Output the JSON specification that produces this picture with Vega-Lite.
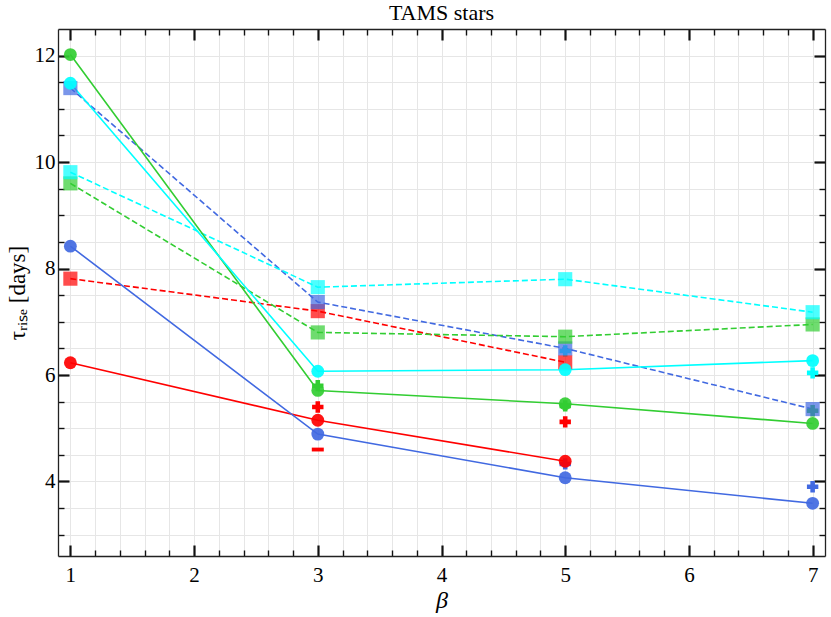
{
  "$schema": "https://vega.github.io/schema/vega-lite/v6.json",
  "autosize": {"type": "none"},
  "width": 767,
  "height": 527,
  "padding": {"left": 58, "top": 29, "right": 6, "bottom": 61},
  "background": "white",
  "title": {"text": "TAMS stars", "font": "Liberation Serif", "fontSize": 22, "fontWeight": "normal", "color": "black", "offset": 3},
  "config": {
    "view": {"stroke": null},
    "axis": {"labelFont": "Liberation Serif", "titleFont": "Liberation Serif", "labelColor": "black", "titleColor": "black", "titleFontWeight": "normal", "domainColor": "#222", "domainWidth": 1.3, "tickColor": "#111"}
  },
  "data": {"values": [
    {"beta": 1, "tau": 6.23, "series": "red", "marker": "circle"},
    {"beta": 3, "tau": 5.15, "series": "red", "marker": "circle"},
    {"beta": 5, "tau": 4.38, "series": "red", "marker": "circle"},
    {"beta": 1, "tau": 8.42, "series": "blue", "marker": "circle"},
    {"beta": 3, "tau": 4.89, "series": "blue", "marker": "circle"},
    {"beta": 5, "tau": 4.07, "series": "blue", "marker": "circle"},
    {"beta": 7, "tau": 3.59, "series": "blue", "marker": "circle"},
    {"beta": 1, "tau": 12.02, "series": "green", "marker": "circle"},
    {"beta": 3, "tau": 5.71, "series": "green", "marker": "circle"},
    {"beta": 5, "tau": 5.46, "series": "green", "marker": "circle"},
    {"beta": 7, "tau": 5.09, "series": "green", "marker": "circle"},
    {"beta": 1, "tau": 11.48, "series": "cyan", "marker": "circle"},
    {"beta": 3, "tau": 6.07, "series": "cyan", "marker": "circle"},
    {"beta": 5, "tau": 6.1, "series": "cyan", "marker": "circle"},
    {"beta": 7, "tau": 6.27, "series": "cyan", "marker": "circle"},
    {"beta": 1, "tau": 7.81, "series": "red", "marker": "square"},
    {"beta": 3, "tau": 7.2, "series": "red", "marker": "square"},
    {"beta": 5, "tau": 6.24, "series": "red", "marker": "square"},
    {"beta": 1, "tau": 11.39, "series": "blue", "marker": "square"},
    {"beta": 3, "tau": 7.37, "series": "blue", "marker": "square"},
    {"beta": 5, "tau": 6.5, "series": "blue", "marker": "square"},
    {"beta": 7, "tau": 5.36, "series": "blue", "marker": "square"},
    {"beta": 1, "tau": 9.6, "series": "green", "marker": "square"},
    {"beta": 3, "tau": 6.8, "series": "green", "marker": "square"},
    {"beta": 5, "tau": 6.72, "series": "green", "marker": "square"},
    {"beta": 7, "tau": 6.95, "series": "green", "marker": "square"},
    {"beta": 1, "tau": 9.81, "series": "cyan", "marker": "square"},
    {"beta": 3, "tau": 7.65, "series": "cyan", "marker": "square"},
    {"beta": 5, "tau": 7.8, "series": "cyan", "marker": "square"},
    {"beta": 7, "tau": 7.18, "series": "cyan", "marker": "square"},
    {"beta": 3, "tau": 5.4, "series": "red", "marker": "plus"},
    {"beta": 5, "tau": 5.12, "series": "red", "marker": "plus"},
    {"beta": 3, "tau": 4.6, "series": "red", "marker": "minus"},
    {"beta": 3, "tau": 5.8, "series": "green", "marker": "plus"},
    {"beta": 5, "tau": 5.42, "series": "green", "marker": "plus"},
    {"beta": 7, "tau": 5.33, "series": "green", "marker": "plus"},
    {"beta": 5, "tau": 4.33, "series": "blue", "marker": "plus"},
    {"beta": 7, "tau": 3.9, "series": "blue", "marker": "plus"},
    {"beta": 5, "tau": 6.45, "series": "cyan", "marker": "plus"},
    {"beta": 7, "tau": 6.04, "series": "cyan", "marker": "plus"}
  ]},
  "resolve": {"axis": {"x": "independent", "y": "independent"}},
  "layer": [
    {
      "transform": [{"filter": "datum.marker === 'square'"}],
      "mark": {"type": "line", "strokeWidth": 1.6, "strokeDash": [6, 3]},
      "encoding": {
        "x": {"field": "beta", "type": "quantitative", "scale": {"domain": [0.9, 7.1], "nice": false, "zero": false},
          "axis": {"orient": "bottom", "title": "β", "titleFontStyle": "italic", "titleFontSize": 24, "titlePadding": 3,
            "values": [1,1.2,1.4,1.6,1.8,2,2.2,2.4,2.6,2.8,3,3.2,3.4,3.6,3.8,4,4.2,4.4,4.6,4.8,5,5.2,5.4,5.6,5.8,6,6.2,6.4,6.6,6.8,7],
            "labelExpr": "datum.value % 1 === 0 ? format(datum.value, 'd') : ''", "labelFontSize": 21, "labelPadding": 19,
            "grid": true, "gridColor": "#e6e6e6", "gridWidth": 1,
            "tickSize": {"condition": {"test": "datum.value % 1 === 0", "value": -11}, "value": -6},
            "tickWidth": {"condition": {"test": "datum.value % 1 === 0", "value": 2.2}, "value": 1.4}}},
        "y": {"field": "tau", "type": "quantitative", "scale": {"domain": [2.6, 12.5], "nice": false, "zero": false},
          "axis": {"orient": "left", "title": "τᵣᵢₛₑ [days]", "titleFontSize": 23, "titlePadding": 5,
            "values": [3,3.5,4,4.5,5,5.5,6,6.5,7,7.5,8,8.5,9,9.5,10,10.5,11,11.5,12],
            "labelExpr": "datum.value % 2 === 0 ? format(datum.value, 'd') : ''", "labelFontSize": 21, "labelPadding": 14,
            "grid": true, "gridColor": "#e6e6e6", "gridWidth": 1,
            "tickSize": {"condition": {"test": "datum.value % 2 === 0", "value": -11}, "value": -6},
            "tickWidth": {"condition": {"test": "datum.value % 2 === 0", "value": 2.2}, "value": 1.4}}},
        "color": {"field": "series", "type": "nominal", "scale": {"domain": ["red", "blue", "green", "cyan"], "range": ["#ff0000", "#4169e1", "#32cd32", "#00ffff"]}, "legend": null}
      }
    },
    {
      "transform": [{"filter": "datum.marker === 'circle'"}],
      "mark": {"type": "line", "strokeWidth": 1.6},
      "encoding": {
        "x": {"field": "beta", "type": "quantitative",
          "axis": {"orient": "top", "title": null, "labels": false, "grid": false,
            "values": [1,1.2,1.4,1.6,1.8,2,2.2,2.4,2.6,2.8,3,3.2,3.4,3.6,3.8,4,4.2,4.4,4.6,4.8,5,5.2,5.4,5.6,5.8,6,6.2,6.4,6.6,6.8,7],
            "tickSize": {"condition": {"test": "datum.value % 1 === 0", "value": -11}, "value": -6},
            "tickWidth": {"condition": {"test": "datum.value % 1 === 0", "value": 2.2}, "value": 1.4}}},
        "y": {"field": "tau", "type": "quantitative",
          "axis": {"orient": "right", "title": null, "labels": false, "grid": false,
            "values": [3,3.5,4,4.5,5,5.5,6,6.5,7,7.5,8,8.5,9,9.5,10,10.5,11,11.5,12],
            "tickSize": {"condition": {"test": "datum.value % 2 === 0", "value": -11}, "value": -6},
            "tickWidth": {"condition": {"test": "datum.value % 2 === 0", "value": 2.2}, "value": 1.4}}},
        "color": {"field": "series", "type": "nominal", "legend": null}
      }
    },
    {
      "transform": [{"filter": "datum.marker === 'plus'"}],
      "mark": {"type": "point", "shape": "cross", "filled": true, "size": 130, "opacity": 1},
      "encoding": {
        "x": {"field": "beta", "type": "quantitative", "axis": null},
        "y": {"field": "tau", "type": "quantitative", "axis": null},
        "color": {"field": "series", "type": "nominal", "legend": null}
      }
    },
    {
      "transform": [{"filter": "datum.marker === 'minus'"}],
      "mark": {"type": "point", "shape": "M-1,-0.32L1,-0.32L1,0.32L-1,0.32Z", "filled": true, "size": 144, "opacity": 1},
      "encoding": {
        "x": {"field": "beta", "type": "quantitative", "axis": null},
        "y": {"field": "tau", "type": "quantitative", "axis": null},
        "color": {"field": "series", "type": "nominal", "legend": null}
      }
    },
    {
      "transform": [{"filter": "datum.marker === 'square'"}],
      "mark": {"type": "point", "shape": "square", "filled": true, "size": 200, "opacity": 0.7},
      "encoding": {
        "x": {"field": "beta", "type": "quantitative", "axis": null},
        "y": {"field": "tau", "type": "quantitative", "axis": null},
        "color": {"field": "series", "type": "nominal", "legend": null}
      }
    },
    {
      "transform": [{"filter": "datum.marker === 'circle'"}],
      "mark": {"type": "point", "shape": "circle", "filled": true, "size": 165, "opacity": 0.92},
      "encoding": {
        "x": {"field": "beta", "type": "quantitative", "axis": null},
        "y": {"field": "tau", "type": "quantitative", "axis": null},
        "color": {"field": "series", "type": "nominal", "legend": null}
      }
    }
  ]
}
